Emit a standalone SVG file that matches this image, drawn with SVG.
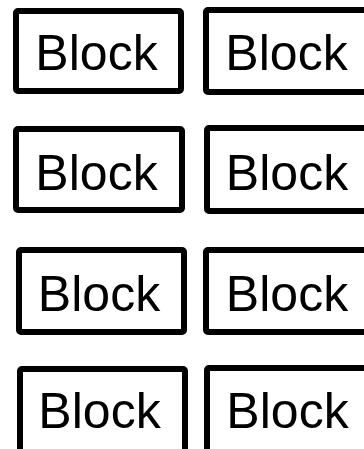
<svg xmlns="http://www.w3.org/2000/svg" width="364" height="449" viewBox="0 0 364 449">
<style>
.box{fill:#fff;stroke:#000;stroke-width:6;rx:2;}
.lbl{font-family:"Liberation Sans",Arial,sans-serif;font-size:50px;fill:#000;text-anchor:middle;}
</style>
<rect width="364" height="449" fill="#fff"/>
<g id="connectors"/>
<g id="n1"><rect class="box" x="16" y="11" width="165" height="80" rx="2"/><text class="lbl" x="96.5" y="70">Block</text></g>
<g id="n2"><rect class="box" x="206" y="10" width="166" height="82" rx="2"/><text class="lbl" x="286.5" y="70">Block</text></g>
<g id="n3"><rect class="box" x="16" y="129" width="166" height="81" rx="2"/><text class="lbl" x="96.5" y="190">Block</text></g>
<g id="n4"><rect class="box" x="207" y="128" width="166" height="83" rx="2"/><text class="lbl" x="287" y="190">Block</text></g>
<g id="n5"><rect class="box" x="19" y="250" width="165" height="82" rx="2"/><text class="lbl" x="99" y="311">Block</text></g>
<g id="n6"><rect class="box" x="206" y="250" width="166" height="82" rx="2"/><text class="lbl" x="287" y="311">Block</text></g>
<g id="n7"><rect class="box" x="20" y="369" width="165" height="84" rx="2"/><text class="lbl" x="99.5" y="428">Block</text></g>
<g id="n8"><rect class="box" x="207" y="368" width="166" height="86" rx="2"/><text class="lbl" x="287.5" y="428">Block</text></g>
</svg>
